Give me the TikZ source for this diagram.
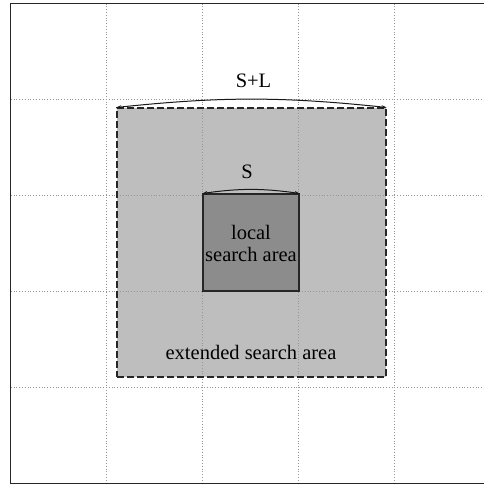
\documentclass[tikz,border=0pt]{standalone}
\usepackage{fontspec}
\setmainfont{Liberation Serif}
\usetikzlibrary{arrows.meta}
\definecolor{extfill}{RGB}{190,190,190}
\definecolor{locfill}{RGB}{140,140,140}
\definecolor{gridcol}{RGB}{150,150,150}
\tikzset{
  gridline/.style={draw=gridcol, dotted, line width=0.8pt},
  extbox/.style={fill=extfill, draw=black!85, line width=1.1pt,
    dash pattern=on 7pt off 3pt, minimum width=269pt, minimum height=269pt,
    inner sep=0pt},
  locbox/.style={fill=locfill, draw=black!85, line width=1.1pt,
    minimum width=96pt, minimum height=97pt, inner sep=0pt},
  lbl/.style={font=\fontsize{20.5}{22}\selectfont, align=center, inner sep=0pt},
  span/.style={line width=1pt, draw=black!90, {Stealth[length=5pt,width=3.5pt]}-{Stealth[length=5pt,width=3.5pt]}}
}
\begin{document}
\begin{tikzpicture}[x=1pt, y=-1pt]
  \useasboundingbox (0,0) rectangle (484,484);
  % extended search area (fill first, grid shows through)
  \node[extbox, draw=none] (extbg) at (251.5,242.5) {};
  % dotted grid
  \foreach \g in {106.7,202.7,298.7,394.7} {
    \draw[gridline] (\g,3.7) -- (\g,483.7);
  }
  \foreach \g in {99.7,195.7,291.7,387.7} {
    \draw[gridline] (10.7,\g) -- (490.7,\g);
  }
  % outer frame
  \draw[draw=black!85, line width=1.4pt] (10.7,3.7) rectangle (490.7,483.7);
  % area outlines
  \node[extbox, fill=none] (ext) at (251.5,242.5) {};
  \node[locbox] (loc) at (251,242.5) {};
  % labels
  \node[lbl] (loctxt) at (251,243) {local\\search area};
  \node[lbl] (exttxt) at (251,352) {extended search area};
  % size markers
  \draw[span] (ext.north west) to[bend left=6] (ext.north east);
  \node[lbl] (sl) at (253.5,80.5) {S+L};
  \draw[span] (loc.north west) to[bend left=8] (loc.north east);
  \node[lbl] (s) at (247,172) {S};
\end{tikzpicture}
\end{document}
